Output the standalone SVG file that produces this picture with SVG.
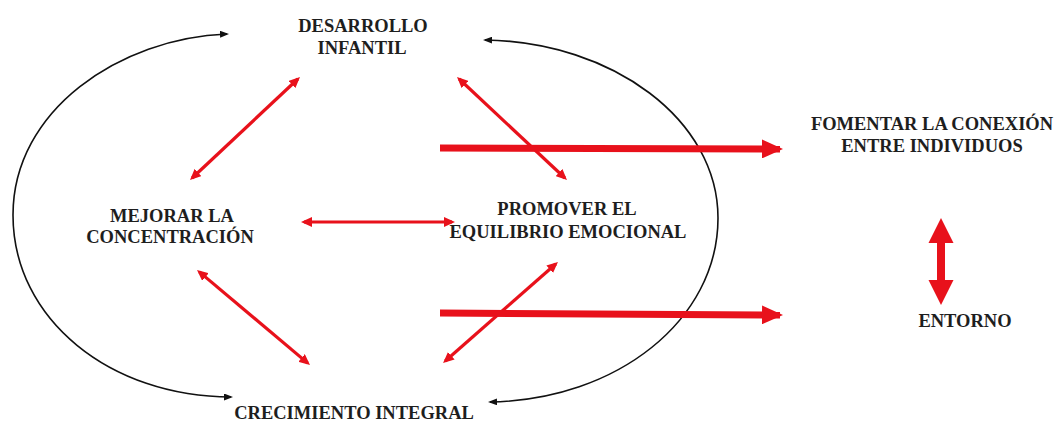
<svg xmlns="http://www.w3.org/2000/svg" width="1058" height="422" viewBox="0 0 1058 422">
<style>
text{font-family:"Liberation Serif","Times New Roman",serif;font-weight:bold;font-size:18.5px;fill:#1e1e1e;text-anchor:middle}
.thin{stroke:#e8111b;stroke-width:3.2;fill:none;marker-start:url(#rh);marker-end:url(#rh)}
.thick{stroke:#e8111b;stroke-width:7;fill:none;marker-end:url(#th)}
.arc{stroke:#111;stroke-width:1.6;fill:none;marker-start:url(#bh);marker-end:url(#bh)}
</style>
<defs>
<marker id="rh" markerUnits="userSpaceOnUse" viewBox="0 0 11 10" markerWidth="11" markerHeight="10" refX="8" refY="5" orient="auto-start-reverse"><path d="M0,0 L11,5 L0,10 z" fill="#e8111b"/></marker>
<marker id="th" markerUnits="userSpaceOnUse" viewBox="0 0 21 19" markerWidth="21" markerHeight="19" refX="18" refY="9.5" orient="auto"><path d="M0,0 L21,9.5 L0,19 z" fill="#e8111b"/></marker>
<marker id="bh" markerUnits="userSpaceOnUse" viewBox="0 0 9 7" markerWidth="9" markerHeight="7" refX="7" refY="3.5" orient="auto-start-reverse"><path d="M0,0 L9,3.5 L0,7 z" fill="#111"/></marker>
</defs>
<rect width="1058" height="422" fill="#fff"/>
<g id="connectors">
<path class="arc" d="M227,34 C120,38 13,110 13,215 C13,320 111,397 231,397"/>
<path class="arc" d="M485,40 C613,42 718,120 718,218 C718,320 617,400 490,402"/>
<line class="thin" x1="297.8" y1="79" x2="192.2" y2="178"/>
<line class="thin" x1="459.2" y1="79" x2="564.8" y2="178"/>
<line class="thin" x1="304" y1="222" x2="452" y2="222"/>
<line class="thin" x1="199.3" y1="271.9" x2="307.7" y2="363.1"/>
<line class="thin" x1="555.7" y1="264" x2="445.3" y2="361"/>
<line class="thick" x1="440" y1="148" x2="780" y2="149"/>
<line class="thick" x1="440" y1="313" x2="780" y2="315"/>
<polygon points="941,218 953.5,243 945,243 945,280 953.5,280 941,305 928.5,280 937,280 937,243 928.5,243" fill="#e8111b"/>
</g>
<g id="desarrollo"><text x="363" y="32">DESARROLLO</text><text x="362" y="54">INFANTIL</text></g>
<g id="mejorar"><text x="172" y="222">MEJORAR LA</text><text x="170" y="243">CONCENTRACIÓN</text></g>
<g id="promover"><text x="567" y="215">PROMOVER EL</text><text x="568" y="238">EQUILIBRIO EMOCIONAL</text></g>
<g id="crecimiento"><text x="354" y="419">CRECIMIENTO INTEGRAL</text></g>
<g id="fomentar"><text x="932" y="130">FOMENTAR LA CONEXIÓN</text><text x="932" y="152">ENTRE INDIVIDUOS</text></g>
<g id="entorno"><text x="965" y="327">ENTORNO</text></g>
</svg>
